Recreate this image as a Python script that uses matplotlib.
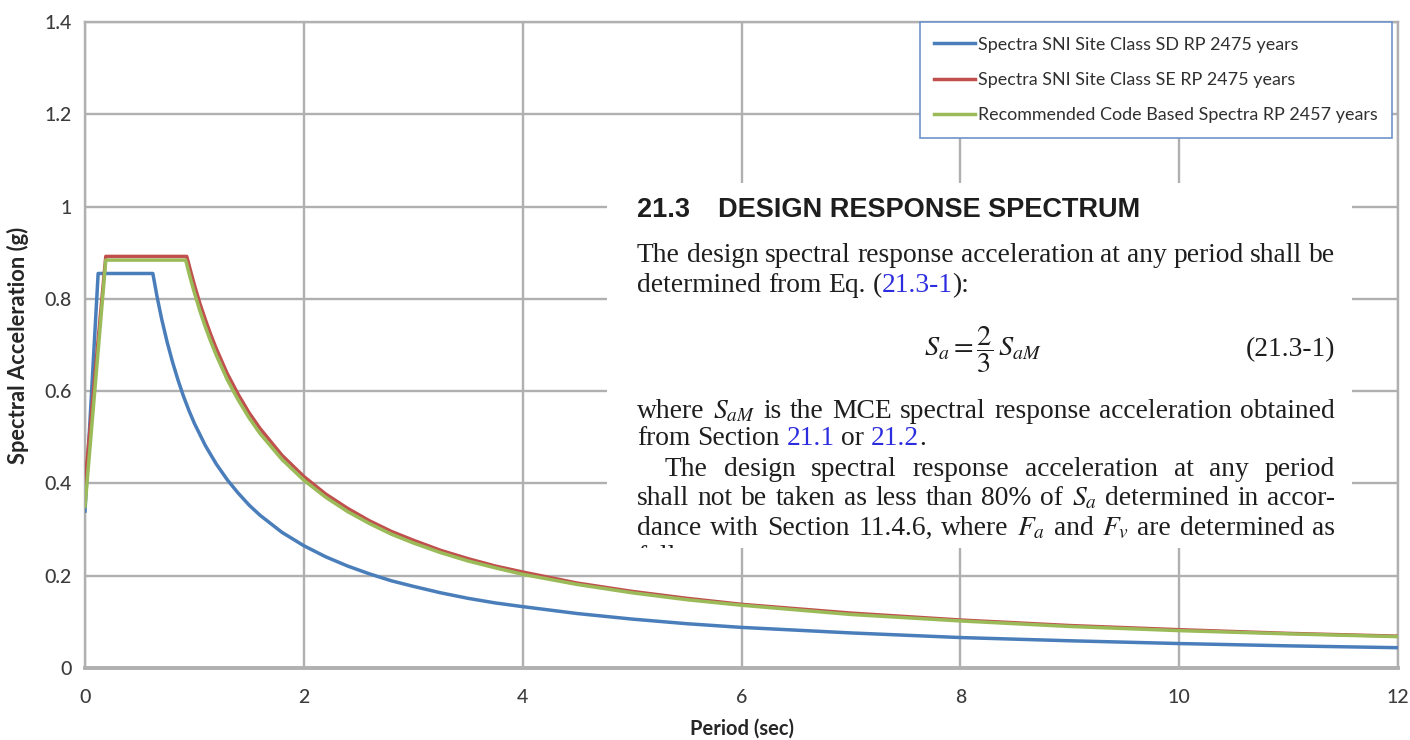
import re
import matplotlib
matplotlib.use("Agg")
import matplotlib.pyplot as plt
from matplotlib.patches import Rectangle
from matplotlib.lines import Line2D

# ---------------------------------------------------------------- data
period_sd = [0.0, 0.12, 0.62, 0.66, 0.7, 0.75, 0.8, 0.85, 0.9, 0.95, 1.0,
             1.1, 1.2, 1.3, 1.4, 1.5, 1.6, 1.8, 2.0, 2.2, 2.4, 2.6, 2.8,
             3.0, 3.25, 3.5, 3.75, 4.0, 4.5, 5.0, 5.5, 6.0, 7.0, 8.0, 9.0,
             10.0, 11.0, 12.0]
sa_sd = [0.34, 0.855, 0.855, 0.803, 0.757, 0.707, 0.663, 0.624, 0.589,
         0.558, 0.530, 0.482, 0.442, 0.408, 0.379, 0.353, 0.331, 0.294,
         0.265, 0.241, 0.221, 0.204, 0.189, 0.177, 0.163, 0.151, 0.141,
         0.133, 0.118, 0.106, 0.096, 0.088, 0.076, 0.066, 0.059, 0.053,
         0.048, 0.044]

period_se = [0.0, 0.19, 0.93, 0.97, 1.0, 1.05, 1.1, 1.15, 1.2, 1.3, 1.4,
             1.5, 1.6, 1.8, 2.0, 2.2, 2.4, 2.6, 2.8, 3.0, 3.25, 3.5, 3.75,
             4.0, 4.5, 5.0, 5.5, 6.0, 7.0, 8.0, 9.0, 10.0, 11.0, 12.0]
sa_se = [0.40, 0.892, 0.892, 0.856, 0.830, 0.790, 0.755, 0.722, 0.692,
         0.638, 0.593, 0.553, 0.519, 0.461, 0.415, 0.377, 0.346, 0.319,
         0.296, 0.277, 0.255, 0.237, 0.221, 0.208, 0.184, 0.166, 0.151,
         0.138, 0.119, 0.104, 0.092, 0.083, 0.075, 0.069]

period_code = [0.0, 0.19, 0.92, 0.96, 1.0, 1.05, 1.1, 1.15, 1.2, 1.3, 1.4,
               1.5, 1.6, 1.8, 2.0, 2.2, 2.4, 2.6, 2.8, 3.0, 3.25, 3.5, 3.75,
               4.0, 4.5, 5.0, 5.5, 6.0, 7.0, 8.0, 9.0, 10.0, 11.0, 12.0]
sa_code = [0.35, 0.884, 0.884, 0.847, 0.813, 0.774, 0.739, 0.707, 0.678,
           0.625, 0.581, 0.542, 0.508, 0.452, 0.407, 0.370, 0.339, 0.313,
           0.290, 0.271, 0.250, 0.232, 0.217, 0.203, 0.181, 0.163, 0.148,
           0.136, 0.116, 0.102, 0.090, 0.081, 0.074, 0.068]

series_labels = ["Spectra SNI Site Class SD RP 2475 years",
                 "Spectra SNI Site Class SE RP 2475 years",
                 "Recommended Code Based Spectra RP 2457 years"]

x_ticks = [0, 2, 4, 6, 8, 10, 12]
x_tick_labels = ["0", "2", "4", "6", "8", "10", "12"]
y_ticks = [0, 0.2, 0.4, 0.6, 0.8, 1.0, 1.2, 1.4]
y_tick_labels = ["0", "0.2", "0.4", "0.6", "0.8", "1", "1.2", "1.4"]

x_label = "Period (sec)"
y_label = "Spectral Acceleration (g)"

# --------------------------------------------------------------- figure
W, H = 1410, 740
plt.rcParams["mathtext.fontset"] = "stix"
fig = plt.figure(figsize=(W / 100, H / 100), dpi=100)
fig.patch.set_facecolor("white")
renderer = fig.canvas.get_renderer()


def text_width(s, **kw):
    t = fig.text(0, 0, s, **kw)
    w = t.get_window_extent(renderer).width
    t.remove()
    return w


ax = fig.add_axes([85 / W, 1 - 668 / H, (1398 - 85) / W, (668 - 22) / H])
ax.set_xlim(0, 12)
ax.set_ylim(0, 1.4)

grid_c = "#b0b0b0"
ax.set_xticks(x_ticks)
ax.set_xticklabels(x_tick_labels)
ax.set_yticks(y_ticks)
ax.set_yticklabels(y_tick_labels)
ax.tick_params(length=0, labelsize=14, labelcolor="#3c3c3c")
ax.tick_params(axis="x", pad=15)
ax.tick_params(axis="y", pad=9.5)
for lab in ax.get_xticklabels() + ax.get_yticklabels():
    lab.set_family("Lato")
    lab.set_fontweight("medium")
ax.grid(True, color=grid_c, lw=1.7)
ax.set_axisbelow(True)
for side, sp in ax.spines.items():
    sp.set_color(grid_c)
    sp.set_linewidth(1.7)
ax.spines["bottom"].set_linewidth(2.8)

lab_kw = dict(family="Lato", fontweight="bold")
xl_size = 20 * 104 / text_width(x_label, size=20, **lab_kw)
yl_size = 20 * 237 / text_width(y_label, size=20, **lab_kw)
ax.set_xlabel(x_label, fontsize=xl_size, color="#262626", labelpad=9,
              **lab_kw)
ax.set_ylabel(y_label, fontsize=yl_size, color="#262626", labelpad=11,
              **lab_kw)

lw = 2.5
ax.plot(period_sd, sa_sd, color="#4a7ebb", lw=lw, zorder=3)
ax.plot(period_se, sa_se, color="#c0504d", lw=lw, zorder=4)
ax.plot(period_code, sa_code, color="#9bbb59", lw=lw, zorder=5)

leg_size = 20 * 400 / text_width(series_labels[2], size=20, family="Lato")
handles = [Line2D([], [], color=c, lw=lw)
           for c in ("#4a7ebb", "#c0504d", "#9bbb59")]
leg = ax.legend(handles, series_labels, loc="upper right",
                bbox_to_anchor=(1392 / W, 1 - 22 / H),
                bbox_transform=fig.transFigure, borderaxespad=0,
                prop={"family": "Lato", "size": leg_size},
                frameon=True, fancybox=False, framealpha=1,
                edgecolor="#6f93c8", borderpad=0.82, labelspacing=1.08,
                handlelength=2.3, handletextpad=0.12)
leg.get_frame().set_linewidth(1.2)
for t in leg.get_texts():
    t.set_color("#303030")

# ------------------------------------------------- code excerpt panel
ov = fig.add_axes([0, 0, 1, 1], zorder=10)
ov.set_xlim(0, W)
ov.set_ylim(H, 0)
ov.axis("off")

panel = Rectangle((607, 183), 1352 - 607, 548 - 183, facecolor="white",
                  edgecolor="none")
ov.add_patch(panel)

ink = "#1e1e1e"
link = "#2d2de0"

head = dict(family="Liberation Sans", fontweight="bold", color=ink)
head_size = 20 * 422 / text_width("DESIGN RESPONSE SPECTRUM", size=20, **head)
ov.text(637, 217, "21.3", size=head_size, va="baseline", **head)
ov.text(718, 217, "DESIGN RESPONSE SPECTRUM", size=head_size,
        va="baseline", **head)

body_family = "Liberation Serif"
body_size = 20 * 333 / text_width("determined from Eq. (21.3-1):", size=20,
                                  family=body_family)
body = dict(family=body_family, size=body_size)
space_w = text_width("a a", **body) - text_width("aa", **body)


def tokens_of(line):
    toks = []
    for word in line.split(" "):
        segs = []
        for piece in re.split(r"(\[[^\]]*\])", word):
            if not piece:
                continue
            if piece.startswith("["):
                segs.append((piece[1:-1], link))
            else:
                segs.append((piece, ink))
        toks.append(segs)
    return toks


def set_line(x0, y, line, width=None, clip=None):
    toks = tokens_of(line)
    widths = [[text_width(s, **body) for s, c in tok] for tok in toks]
    total = sum(sum(ws) for ws in widths)
    gap = space_w if width is None else (width - total) / (len(toks) - 1)
    x = x0
    for tok, ws in zip(toks, widths):
        for (s, c), w in zip(tok, ws):
            t = ov.text(x, y, s, color=c, va="baseline", ha="left", **body)
            if clip is not None:
                t.set_clip_on(True)
                t.set_clip_path(clip)
            x += w
        x += gap


left, right = 637, 1335
set_line(left, 262, "The design spectral response acceleration at any "
         "period shall be", right - left)
set_line(left, 292, "determined from Eq. ([21.3-1]):")
ov.text(924, 356, r"$S_a = \dfrac{2}{3}\,S_{aM}$", color=ink, va="baseline",
        ha="left", size=body_size * 1.03)
ov.text(right, 356, "(21.3-1)", color=ink, va="baseline", ha="right", **body)
set_line(left, 418, "where $S_{aM}$ is the MCE spectral response "
         "acceleration obtained", right - left)
set_line(left, 445, "from Section [21.1] or [21.2].")
set_line(665, 476, "The design spectral response acceleration at any "
         "period", right - 665)
set_line(left, 505, "shall not be taken as less than 80% of $S_a$ "
         "determined in accor-", right - left)
set_line(left, 535, "dance with Section 11.4.6, where $F_a$ and $F_v$ "
         "are determined as", right - left)
set_line(left, 564, "follows:", clip=panel)

fig.savefig("out.png", dpi=100, facecolor="white")
